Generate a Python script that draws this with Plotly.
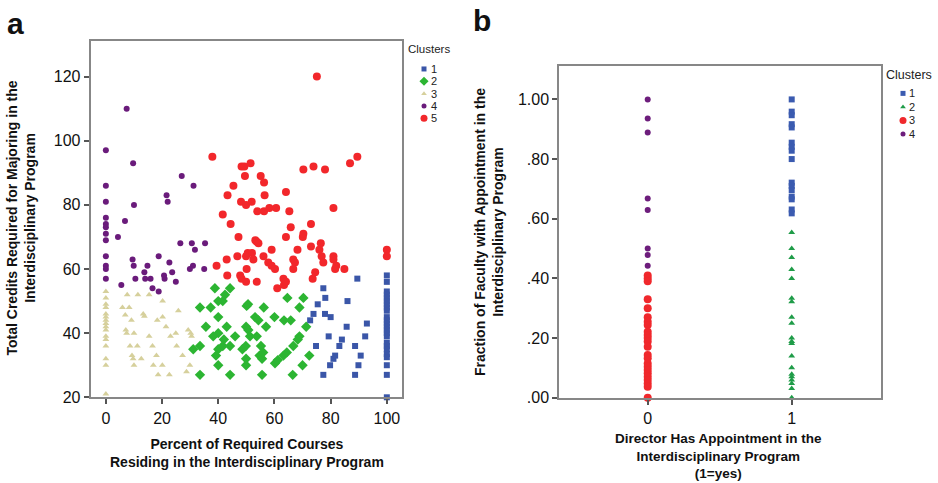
import plotly.graph_objects as go

# ---------------- Panel a data ----------------
a_c1_x = [72.7, 73.9, 75.4, 74.8, 77.4, 78.1, 78.0, 77.4, 80.0, 79.3, 79.8, 81.0, 81.6, 83.1, 84.0,
          85.7, 86.0, 88.7, 88.7, 89.5, 89.9, 90.7, 92.3, 92.9,
          100, 100, 100, 100, 100, 100, 100, 100, 100, 100, 100, 100, 100, 100, 100, 100,
          100, 100, 100, 100, 100, 100, 100, 100]
a_c1_y = [44, 46, 49, 36, 54, 51, 46, 27, 45, 39, 30, 32, 33, 36, 38,
          42, 50, 36, 27, 57, 30, 33, 39, 43,
          58, 56, 53, 52, 51, 50, 49, 48, 47, 45, 44, 43, 42, 41, 40, 39,
          37, 36, 35, 33.5, 32.5, 30, 27, 20]

a_c2_x = [33.5, 31.1, 33.5, 33.5, 35.6, 37.3, 38.8, 40.0, 41.6, 40.0, 40.0, 38.2, 40.0, 39.2, 40.0,
          41.6, 42.0, 42.4, 44.2, 43.0, 44.2, 44.2, 46.0, 48.6, 49.8, 50.1, 50.6, 49.9, 50.7, 49.9,
          49.9, 51.3, 53.7, 53.1, 54.3, 55.2, 54.7, 55.6, 56.2, 57.0, 55.6, 56.0, 60.0, 60.2, 61.2,
          63.2, 64.4, 63.4, 65.8, 64.6, 66.7, 66.5, 68.3, 68.9, 68.9, 70.3, 71.3, 70.0, 72.4]
a_c2_y = [48, 35, 36, 27, 42, 48, 54, 50, 50, 45, 40, 39, 35, 33, 30,
          36, 38, 52, 54, 42, 36, 27, 39, 35, 36, 48.5, 49, 42, 41, 32,
          30, 39, 39, 45, 44, 36, 33, 32, 48, 42, 27, 34, 45, 30.6, 31.6,
          33, 34, 44, 44, 51, 36, 27, 38, 39, 48, 51, 42, 30, 33]

a_c3_x = [0, 0, 0, 0, 0, 0, 0, 0, 0, 0, 0, 0, 0, 0, 0, 0,
          5.9, 8.3, 7.6, 7.1, 7.4, 6.9, 9.1, 8.6, 9.3, 9.7, 10.0, 10.0, 11.4, 11.2, 12.6,
          13.3, 13.7, 15.4, 15.4, 16.6, 16.9, 18.3, 18.0, 18.6, 20.2, 20.2, 20.1, 21.4, 22.6,
          23.0, 24.9, 25.2, 25.8, 27.3, 29.3, 30.2, 30.5, 28.7, 29.9]
a_c3_y = [53, 51, 49, 48, 46, 45, 44, 43, 42, 41, 39, 38, 36, 32, 30, 21,
          48, 48, 52, 41, 40, 45.7, 44, 36, 33, 32, 30, 40, 52, 36, 32,
          46, 45.3, 52, 39, 36, 30, 44, 33, 27, 50, 45, 30, 42, 27,
          39, 40, 36, 47, 33, 41, 40, 39, 28, 30]

a_c4_x = [0, 0, 0, 0, 0, 0, 0, 0, 0, 0, 0, 0,
          7.4, 6.8, 4.3, 5.5, 9.7, 10.0, 9.5, 9.9, 10.5, 13.7, 14.8, 14.0, 15.9, 16.6,
          18.8, 18.8, 20.7, 20.9, 21.6, 22.0, 22.6, 23.6, 24.9, 27.0, 26.5, 31.2, 30.6,
          31.7, 31.0, 29.9, 35.3, 35.0]
a_c4_y = [97, 86, 81, 76, 74, 73, 71, 69, 64, 61, 60, 57,
          110, 75, 70, 55, 93, 80, 63, 61, 57, 59, 61, 57, 57, 54,
          64, 53, 58, 57, 83, 81, 62, 59, 56, 89, 68, 86, 68,
          66, 61, 60, 68, 60]

a_c5_x = [75.1, 37.9, 48.3, 49.3, 51.5, 49.5, 45.4, 43.3, 41.6, 44.4, 48.1, 49.9, 51.9, 55.1,
          56.3, 56.5, 53.9, 56.3, 58.2, 60.6, 64.1, 65.3, 65.8, 64.1, 70.3, 73.9, 78.0, 86.9,
          89.5, 81.0, 73.0, 70.1, 70.3, 47.2, 46.8, 49.9, 50.5, 52.0, 53.2, 53.7, 54.3, 52.5,
          50.1, 47.8, 48.3, 49.9, 53.7, 56.1, 59.0, 57.8, 59.0, 60.2, 61.0, 63.2, 63.4, 64.1,
          66.7, 67.3, 66.7, 68.2, 73.0, 76.0, 76.5, 76.8, 77.4, 74.5, 73.6, 81.0, 81.0, 82.0,
          81.6, 84.9, 43.0, 43.2, 39.4, 100, 100]
a_c5_y = [120, 95, 92, 92, 93, 89, 86, 83, 77, 74, 81, 80, 81, 89,
          87, 83, 78, 78, 79, 79, 84, 78, 73, 70, 91, 92, 91, 93,
          95, 79, 74, 70, 71, 70, 64, 64, 65, 65, 69, 68.5, 68, 63,
          60, 58, 57, 56, 56, 64, 66, 62, 61, 60, 54, 57, 55, 56,
          63, 62, 60, 66, 67, 66, 68, 64, 62, 59, 57, 64, 63, 61,
          60, 60, 63, 58, 61, 66, 64]

a_x_ticks = [0, 20, 40, 60, 80, 100]
a_y_ticks = [20, 40, 60, 80, 100, 120]
a_x_title = ["Percent of Required Courses", "Residing in the Interdisciplinary Program"]
a_y_title = ["Total Credits Required for Majoring in the", "Interdisciplinary Program"]

# ---------------- Panel b data ----------------
b_c1_director = 1
b_c1_y = [1.00, 0.959, 0.947, 0.917, 0.906, 0.855, 0.841, 0.828, 0.80, 0.721, 0.71, 0.696,
          0.674, 0.665, 0.631, 0.618]
b_c2_director = 1
b_c2_y = [0.554, 0.50, 0.47, 0.43, 0.40, 0.333, 0.322, 0.27, 0.25, 0.20, 0.188, 0.182,
          0.14, 0.10, 0.079, 0.07, 0.059, 0.048, 0.031, 0.0]
b_c3_director = 0
b_c3_y = [0.41, 0.40, 0.39, 0.33, 0.30, 0.27, 0.255, 0.244, 0.221, 0.21, 0.20, 0.188,
          0.171, 0.143, 0.132, 0.115, 0.104, 0.093, 0.082, 0.07, 0.059, 0.048, 0.037, 0.0]
b_c4_director = 0
b_c4_y = [1.00, 0.936, 0.889, 0.668, 0.629, 0.50, 0.478, 0.442]

b_x_ticks = [0, 1]
b_y_tickvals = [0.0, 0.2, 0.4, 0.6, 0.8, 1.0]
b_y_ticktext = [".00", ".20", ".40", ".60", ".80", "1.00"]
b_x_title = ["Director Has Appointment in the", "Interdisciplinary Program", "(1=yes)"]
b_y_title = ["Fraction of Faculty with Appointment in the", "Interdisciplinary Program"]

legend_title = "Clusters"

# ---------------- Figure ----------------
W, H = 938, 483
FONT = "Arial, Liberation Sans, sans-serif"


def px_x(p):
    return p / W


def px_y(p):
    return 1 - p / H


fig = go.Figure()

a_series = [
    ("1", a_c1_x, a_c1_y, "square", "#3a56a8", 6),
    ("2", a_c2_x, a_c2_y, "diamond", "#2cb532", 8),
    ("3", a_c3_x, a_c3_y, "triangle-up", "#d6d09c", 6),
    ("4", a_c4_x, a_c4_y, "circle", "#6a1b7b", 6),
    ("5", a_c5_x, a_c5_y, "circle", "#f2272b", 8),
]
for name, xs, ys, sym, col, sz in a_series:
    fig.add_trace(go.Scatter(
        x=xs, y=ys, mode="markers", name=name, xaxis="x", yaxis="y",
        marker=dict(symbol=sym, color=col, size=sz, line=dict(width=0)),
        cliponaxis=False, showlegend=False,
    ))

b_series = [
    ("1", b_c1_director, b_c1_y, "square", "#3b5bb0", 6),
    ("2", b_c2_director, b_c2_y, "triangle-up", "#1f9c48", 6),
    ("3", b_c3_director, b_c3_y, "circle", "#f0282c", 8),
    ("4", b_c4_director, b_c4_y, "circle", "#6d1d7c", 6),
]
for name, d, ys, sym, col, sz in b_series:
    fig.add_trace(go.Scatter(
        x=[d] * len(ys), y=ys, mode="markers", name=name, xaxis="x2", yaxis="y2",
        marker=dict(symbol=sym, color=col, size=sz, line=dict(width=0)),
        cliponaxis=False, showlegend=False,
    ))


# ---- compact legends (one row per cluster, drawn on hidden helper axes) ----
def add_legend(series, xa, ya, mark_x, text_x):
    for i, (name, _a, _b, sym, col, sz) in enumerate(series, start=1):
        fig.add_trace(go.Scatter(
            x=[mark_x], y=[i], mode="markers", xaxis=xa, yaxis=ya, showlegend=False,
            hoverinfo="skip", cliponaxis=False,
            marker=dict(symbol=sym, color=col, size=max(sz - 1, 5), line=dict(width=0)),
        ))
        fig.add_annotation(text=name, x=text_x, y=i, xref=xa, yref=ya, xanchor="left",
                           yanchor="middle", showarrow=False,
                           font=dict(family=FONT, size=11, color="#222"))


add_legend(a_series, "x3", "y3", 14, 18.5)
add_legend(b_series, "x4", "y4", 18, 22)

frame = dict(showline=True, mirror=True, linecolor="#878787", linewidth=2,
             showgrid=False, zeroline=False, ticks="outside", ticklen=5,
             tickcolor="#555", tickwidth=1.5, automargin=False,
             tickfont=dict(family=FONT, size=16, color="#111"))
hidden = dict(visible=False, fixedrange=True, showgrid=False, zeroline=False)

fig.update_layout(
    width=W, height=H,
    margin=dict(l=0, r=0, t=0, b=0, autoexpand=False),
    paper_bgcolor="white", plot_bgcolor="white",
    font=dict(family=FONT, color="#111"),
    showlegend=False,
    xaxis=dict(domain=[px_x(90.7), px_x(402)], range=[-5.4, 105.4], anchor="y",
               tickvals=a_x_ticks, **frame),
    yaxis=dict(domain=[px_y(397.3), px_y(41)], range=[20, 131.1], anchor="x",
               tickvals=a_y_ticks, **frame),
    xaxis2=dict(domain=[px_x(559.3), px_x(880.7)], range=[-0.614, 1.618], anchor="y2",
                tickvals=b_x_ticks, **frame),
    yaxis2=dict(domain=[px_y(397.7), px_y(66)], range=[0, 1.112], anchor="x2",
                tickvals=b_y_tickvals, ticktext=b_y_ticktext, **frame),
    # helper axes for legends: x in pixels from the domain's left edge, y = row index
    xaxis3=dict(domain=[px_x(410), px_x(470)], range=[0, 60], anchor="y3", **hidden),
    yaxis3=dict(domain=[px_y(124.5), px_y(62.8)], range=[5.5, 0.5], anchor="x3", **hidden),
    xaxis4=dict(domain=[px_x(885), px_x(937)], range=[0, 52], anchor="y4", **hidden),
    yaxis4=dict(domain=[px_y(140.8), px_y(86.6)], range=[4.5, 0.5], anchor="x4", **hidden),
)


def title_font(size=14):
    return dict(family=FONT, size=size, color="#111", weight="bold")


def add_text(text, x, y, angle=0, font=None, xanchor="center"):
    fig.add_annotation(text=text, x=px_x(x), y=px_y(y), xref="paper", yref="paper",
                       xanchor=xanchor, yanchor="middle", showarrow=False,
                       textangle=angle, font=font or title_font())


# axis titles
add_text("<br>".join(a_x_title), 247, 453)
add_text("<br>".join(a_y_title), 20.5, 218, angle=-90)
add_text("<br>".join(b_x_title), 718, 456, font=title_font(13.5))
add_text("<br>".join(b_y_title), 489, 232, angle=-90)

# legend titles
add_text(legend_title, 406, 49, font=dict(family=FONT, size=11.5, color="#222"), xanchor="left")
add_text(legend_title, 884, 75, font=dict(family=FONT, size=12.5, color="#222"), xanchor="left")

# panel letters
add_text("<b>a</b>", 5, 23, font=dict(family=FONT, size=30, color="#111"), xanchor="left")
add_text("<b>b</b>", 471, 20.5, font=dict(family=FONT, size=30, color="#111"), xanchor="left")

# the page's default 8px body margin would push the figure out of the window
fig.write_html("out.html", config={"displayModeBar": False},
               post_script="document.body.style.margin='0px';")
